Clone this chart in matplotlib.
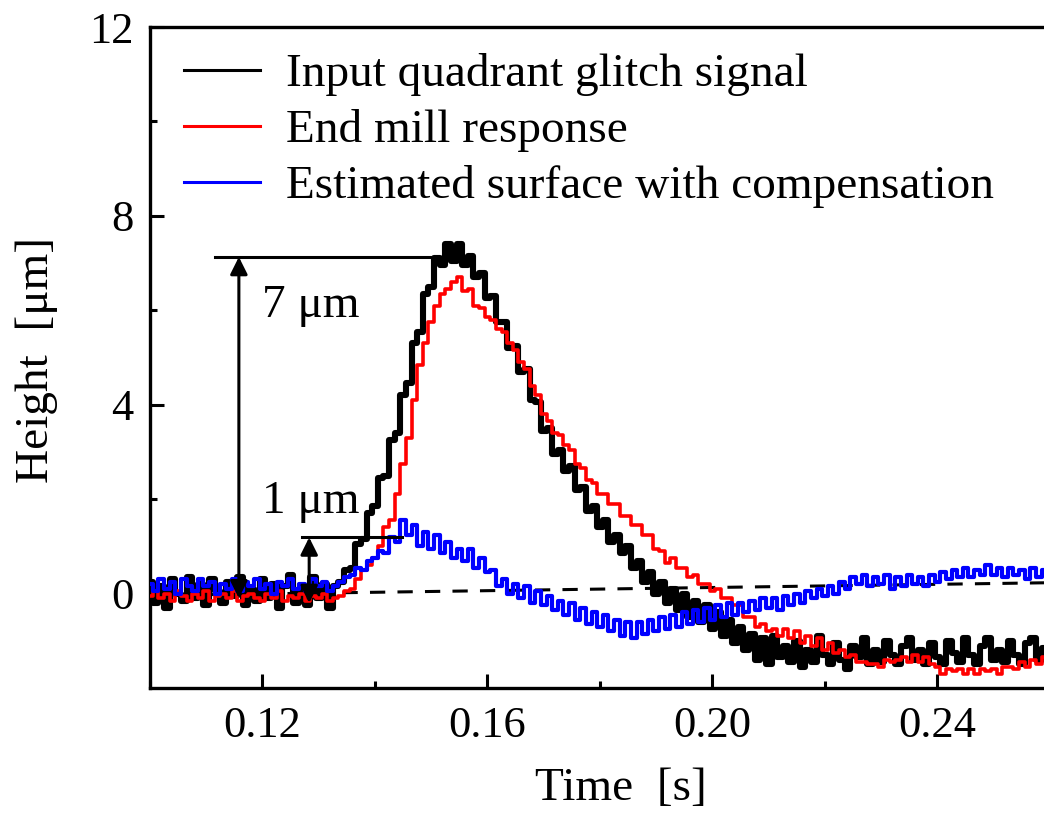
import numpy as np
import matplotlib
matplotlib.use('Agg')
import matplotlib.pyplot as plt
from matplotlib.ticker import FixedLocator

# time base, 1 ms steps from 0.100 s to 0.260 s
time_s = np.linspace(0.100, 0.260, 161)

# values [um]
input_glitch = [
    0.25, -0.2, 0.15, -0.3, 0.3, 0.0, -0.15, 0.35, -0.1, 0.2,
    -0.25, 0.3, 0.05, -0.2, 0.25, -0.05, 0.35, -0.25, 0.1, -0.15,
    0.3, -0.1, 0.2, -0.3, 0.15, 0.4, -0.2, 0.1, -0.25, 0.35,
    -0.1, 0.2, -0.3, 0.15, 0.25, 0.5, 0.55, 1.05, 1.15, 1.7,
    1.85, 2.45, 2.5, 3.25, 3.4, 4.2, 4.45, 5.3, 5.55, 6.35,
    6.5, 7.1, 6.95, 7.4, 7.05, 7.4, 6.95, 7.15, 6.7, 6.8,
    6.25, 6.3, 5.75, 5.75, 5.2, 5.25, 4.7, 4.75, 4.1, 4.05,
    3.45, 3.5, 2.95, 3.05, 2.6, 2.7, 2.2, 2.25, 1.75, 1.85,
    1.4, 1.55, 1.1, 1.25, 0.85, 1.0, 0.55, 0.7, 0.25, 0.45,
    0.0, 0.25, -0.2, 0.1, -0.35, 0.0, -0.5, -0.15, -0.6, -0.25,
    -0.75, -0.4, -0.9, -0.55, -1.05, -0.7, -1.2, -0.85, -1.4, -0.95,
    -1.5, -0.9, -1.35, -1.1, -1.45, -1.0, -1.55, -1.2, -1.45, -0.9,
    -1.3, -1.5, -1.05, -1.4, -1.6, -1.1, -1.35, -0.95, -1.5, -1.2,
    -1.45, -1.0, -1.3, -1.5, -1.1, -0.95, -1.4, -1.2, -1.5, -1.05,
    -1.35, -1.5, -1.0, -1.25, -1.45, -0.95, -1.3, -1.5, -1.1, -0.95,
    -1.4, -1.2, -1.45, -1.0, -1.3, -1.5, -1.05, -0.95, -1.4, -1.15,
    -1.4]

end_mill = [
    -0.05, 0.05, -0.1, 0.0, -0.15, 0.05, -0.05, -0.15, 0.0, -0.1,
    0.05, -0.15, -0.05, 0.0, -0.1, 0.05, -0.15, -0.05, 0.0, -0.1,
    -0.15, 0.0, -0.1, 0.05, -0.15, -0.05, -0.1, 0.0, -0.15, -0.05,
    -0.1, 0.0, -0.15, -0.1, -0.05, 0.05, 0.1, 0.3, 0.5, 0.6,
    0.75, 1.0, 1.4, 1.55, 2.1, 2.75, 3.3, 4.1, 4.85, 5.3,
    5.75, 6.1, 6.35, 6.45, 6.6, 6.7, 6.4, 6.45, 6.1, 6.05,
    5.85, 5.8, 5.6, 5.55, 5.3, 5.15, 4.9, 4.75, 4.4, 4.2,
    3.8, 3.65, 3.4, 3.35, 3.15, 3.05, 2.75, 2.65, 2.4, 2.35,
    2.1, 2.1, 1.9, 1.9, 1.65, 1.65, 1.45, 1.45, 1.25, 1.25,
    0.95, 0.9, 0.65, 0.75, 0.55, 0.55, 0.35, 0.4, 0.2, 0.2,
    0.05, 0.1, -0.1, -0.1, -0.25, -0.25, -0.5, -0.5, -0.7, -0.65,
    -0.8, -0.75, -0.9, -0.75, -0.95, -0.8, -1.05, -0.9, -1.1, -0.95,
    -1.2, -1.05, -1.25, -1.2, -1.35, -1.3, -1.45, -1.45, -1.5, -1.5,
    -1.55, -1.4, -1.45, -1.4, -1.35, -1.45, -1.3, -1.45, -1.35, -1.5,
    -1.55, -1.7, -1.6, -1.65, -1.6, -1.7, -1.6, -1.7, -1.6, -1.65,
    -1.6, -1.7, -1.55, -1.55, -1.6, -1.45, -1.55, -1.4, -1.5, -1.35,
    -1.45]

compensated = [
    0.2, 0.05, 0.3, 0.1, 0.25, 0.0, 0.3, 0.15, 0.05, 0.3,
    0.15, 0.25, 0.0, 0.2, 0.1, 0.3, 0.05, 0.25, 0.15, 0.3,
    0.1, 0.2, 0.0, 0.25, 0.15, 0.3, 0.1, 0.2, 0.05, 0.3,
    0.15, 0.25, 0.05, 0.15, 0.25, 0.35, 0.4, 0.55, 0.5, 0.7,
    0.75, 0.9, 0.85, 1.2, 1.1, 1.55, 1.25, 1.45, 1.0, 1.3,
    0.95, 1.25, 0.85, 1.1, 0.75, 0.95, 0.7, 0.95, 0.55, 0.75,
    0.45, 0.5, 0.15, 0.3, 0.0, 0.2, -0.1, 0.15, -0.2, 0.05,
    -0.25, -0.05, -0.35, -0.15, -0.45, -0.2, -0.55, -0.3, -0.65, -0.4,
    -0.7, -0.45, -0.8, -0.55, -0.9, -0.6, -0.95, -0.6, -0.85, -0.55,
    -0.8, -0.5, -0.75, -0.45, -0.7, -0.4, -0.65, -0.35, -0.6, -0.3,
    -0.55, -0.25, -0.5, -0.2, -0.45, -0.2, -0.4, -0.15, -0.35, -0.1,
    -0.3, -0.1, -0.35, -0.05, -0.25, 0.0, -0.2, 0.05, -0.1, 0.1,
    -0.05, 0.15, 0.0, 0.25, 0.1, 0.35, 0.2, 0.4, 0.15, 0.35,
    0.2, 0.4, 0.1, 0.35, 0.15, 0.4, 0.2, 0.35, 0.15, 0.4,
    0.25, 0.45, 0.3, 0.5, 0.35, 0.55, 0.35, 0.5, 0.4, 0.6,
    0.4, 0.55, 0.35, 0.55, 0.4, 0.5, 0.3, 0.55, 0.35, 0.5,
    0.4]

# dashed reference line (end points)
ref_t = [0.100, 0.260]
ref_h = [-0.04, 0.23]

labels = ['Input quadrant glitch signal', 'End mill response',
          'Estimated surface with compensation']
x_ticks = [0.12, 0.16, 0.20, 0.24]
y_ticks = [0, 4, 8, 12]

plt.rcParams['font.family'] = ['Liberation Serif', 'DejaVu Serif']

fig = plt.figure(figsize=(10.44, 8.16), dpi=100)
ax = fig.add_axes([150/1044, 1 - 688/816, 900/1044, 661/816])

ax.plot(ref_t, ref_h, color='k', ls=(0, (5, 4)), lw=2.2, zorder=1)
l1, = ax.plot(time_s, input_glitch, color='k', lw=4.4, drawstyle='steps-mid',
              label=labels[0], zorder=2)
l2, = ax.plot(time_s, end_mill, color='#ff0000', lw=2.6, drawstyle='steps-mid',
              label=labels[1], zorder=3)
l3, = ax.plot(time_s, compensated, color='#0000ff', lw=3.0, drawstyle='steps-mid',
              label=labels[2], zorder=4)

# 7 um and 1 um markers
arrow = dict(arrowstyle='<|-|>', mutation_scale=26, lw=2.2, color='k',
             shrinkA=0, shrinkB=0)
ax.plot([0.1116, 0.1500], [7.13, 7.13], color='k', lw=2.2, zorder=5)
ax.annotate('', xy=(0.1158, 7.13), xytext=(0.1158, -0.1), arrowprops=arrow, zorder=5)
ax.plot([0.1270, 0.1448], [1.19, 1.19], color='k', lw=2.2, zorder=5)
ax.annotate('', xy=(0.1283, 1.19), xytext=(0.1283, -0.2), arrowprops=arrow, zorder=5)
ax.text(0.1199, 5.85, '7 \u03bcm', fontsize=34, ha='left', va='baseline')
ax.text(0.1199, 1.70, '1 \u03bcm', fontsize=34, ha='left', va='baseline')

ax.set_xlim(0.10, 0.26)
ax.set_ylim(-2, 12)
ax.xaxis.set_major_locator(FixedLocator(x_ticks))
ax.xaxis.set_minor_locator(FixedLocator([0.10, 0.14, 0.18, 0.22, 0.26]))
ax.yaxis.set_major_locator(FixedLocator(y_ticks))
ax.yaxis.set_minor_locator(FixedLocator([2, 6, 10]))
ax.set_xticklabels(['%.2f' % t for t in x_ticks])
ax.set_yticklabels([str(t) for t in y_ticks])
ax.tick_params(which='both', direction='in', top=False, right=False,
               labelsize=32, width=2.2)
ax.tick_params(which='major', length=10)
ax.tick_params(which='minor', length=5)
ax.tick_params(axis='x', pad=13)
ax.tick_params(axis='y', pad=12)
for s in ['left', 'bottom', 'top']:
    ax.spines[s].set_linewidth(2.4)
ax.spines['right'].set_visible(False)

ax.set_xlabel('Time  [s]', fontsize=34)
ax.set_ylabel('Height  [\u03bcm]', fontsize=34)
ax.xaxis.set_label_coords(0.523, -0.12)
ax.yaxis.set_label_coords(-0.102, 0.496)

leg = ax.legend(handles=[l1, l2, l3], loc='upper left', bbox_to_anchor=(0.038, 0.96),
                frameon=False, fontsize=34, handlelength=1.6, handletextpad=0.55,
                labelspacing=0.27, borderaxespad=0, borderpad=0)
for ln in leg.get_lines():
    ln.set_linewidth(2.2)

fig.savefig('out.png', dpi=100)
